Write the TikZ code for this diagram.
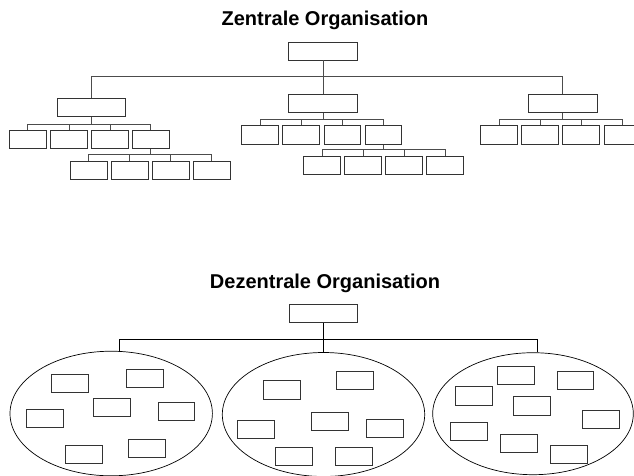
\documentclass[tikz,border=0pt]{standalone}
\usepackage{fontspec}
\setmainfont{Liberation Sans}
\usetikzlibrary{shapes.geometric}

\tikzset{
  unit/.style={draw=black!80, line width=0.9pt, minimum width=36.7pt, minimum height=18.3pt, inner sep=0pt},
  head/.style={unit, minimum width=68.6pt, minimum height=18pt},
  link/.style={draw=black!70, line width=0.8pt},
  dlink/.style={draw=black, line width=0.7pt},
  cluster/.style={ellipse, draw=black, line width=0.7pt, inner sep=0pt},
  title/.style={font=\fontsize{20}{24}\selectfont\bfseries, anchor=base, inner sep=0pt}
}

\begin{document}
\begin{tikzpicture}[x=1pt, y=-1pt]
\clip (0,0) rectangle (634,475);
\fill[white] (0,0) rectangle (634,475);

% ---------------- centralised structure ----------------
\node[title] (ttop) at (325,25.5) {Zentrale Organisation};

\node[head] (top) at (323,51) {};
\coordinate (tbus) at (0,76);

\node[head] (A) at (91.5,107.7) {};
\node[head] (B) at (323,103.3) {};
\node[head] (C) at (562.8,103.3) {};

\draw[link] (top.south) -- (B.north);
\draw[link] (A.north) -- (A.north |- tbus) -- (C.north |- tbus) -- (C.north);

% children of A
\coordinate (abus) at (0,124);
\foreach \i/\x in {1/27.7,2/69,3/110,4/150.7}
  \node[unit] (A\i) at (\x,139.2) {};
\draw[link] (A.south) -- (A.south |- abus);
\draw[link] (A1.north) -- (A1.north |- abus) -- (A4.north |- abus) -- (A4.north);
\foreach \i in {2,3}
  \draw[link] (A\i.north) -- (A\i.north |- abus);

% children of A4
\coordinate (a4bus) at (0,154.3);
\foreach \i/\x in {1/88.8,2/129.7,3/170.7,4/211.7}
  \node[unit] (AA\i) at (\x,170.2) {};
\draw[link] (A4.south) -- (A4.south |- a4bus);
\draw[link] (AA1.north) -- (AA1.north |- a4bus) -- (AA4.north |- a4bus) -- (AA4.north);
\foreach \i in {2,3}
  \draw[link] (AA\i.north) -- (AA\i.north |- a4bus);

% children of B
\coordinate (bbus) at (0,119);
\foreach \i/\x in {1/260.2,2/301.2,3/342.3,4/383.3}
  \node[unit] (B\i) at (\x,135) {};
\draw[link] (B.south) -- (B.south |- bbus);
\draw[link] (B1.north) -- (B1.north |- bbus) -- (B4.north |- bbus) -- (B4.north);
\foreach \i in {2,3}
  \draw[link] (B\i.north) -- (B\i.north |- bbus);

% children of B4
\coordinate (b4bus) at (0,149.3);
\foreach \i/\x in {1/321.9,2/362.9,3/403.9,4/444.9}
  \node[unit] (BB\i) at (\x,165.2) {};
\draw[link] (B4.south) -- (B4.south |- b4bus);
\draw[link] (BB1.north) -- (BB1.north |- b4bus) -- (BB4.north |- b4bus) -- (BB4.north);
\foreach \i in {2,3}
  \draw[link] (BB\i.north) -- (BB\i.north |- b4bus);

% children of C
\coordinate (cbus) at (0,119);
\foreach \i/\x in {1/499.2,2/540.2,3/581.2,4/622.3}
  \node[unit] (C\i) at (\x,135) {};
\draw[link] (C.south) -- (C.south |- cbus);
\draw[link] (C1.north) -- (C1.north |- cbus) -- (C4.north |- cbus) -- (C4.north);
\foreach \i in {2,3}
  \draw[link] (C\i.north) -- (C\i.north |- cbus);

% ---------------- decentralised structure ----------------
\node[title] (tbot) at (325,288.7) {Dezentrale Organisation};

\node[head] (droot) at (323.5,313.8) {};

\node[cluster, minimum width=202.4pt, minimum height=124.6pt] (E1) at (111.2,413.5) {};
\node[cluster, minimum width=202.4pt, minimum height=124pt]   (E2) at (323.5,414.5) {};
\node[cluster, minimum width=200.6pt, minimum height=122pt]   (E3) at (533,413.7) {};

\coordinate (dbus) at (0,339.3);
\draw[dlink] (droot.south) -- (E2.north -| droot);
\draw[dlink] (E1.83.5) -- (E1.83.5 |- dbus) -- (E3.86.5 |- dbus) -- (E3.86.5);

% units inside the first cluster
\foreach \n/\x/\y in {1/69.7/383.3, 2/144.8/378.7, 3/111.8/407.5, 4/44.8/418.5,
                      5/176.5/411.7, 6/83.8/454.5, 7/147.2/448.5}
  \node[unit] (P\n) at (\x,\y) {};

% units inside the second cluster
\foreach \n/\x/\y in {1/281.7/389.8, 2/256.2/429.3, 3/293.8/456.3, 4/330/421.7,
                      5/354.7/380.3, 6/384.7/428.5, 7/353.8/456.3}
  \node[unit] (Q\n) at (\x,\y) {};

% units inside the third cluster
\foreach \n/\x/\y in {1/515.8/375.2, 2/575.3/380.2, 3/473.8/396, 4/531.7/406,
                      5/600.8/419.3, 6/469.2/431.2, 7/518.8/443.7, 8/568.7/454.5}
  \node[unit] (R\n) at (\x,\y) {};
\end{tikzpicture}
\end{document}
